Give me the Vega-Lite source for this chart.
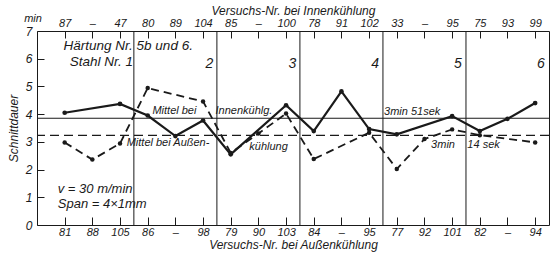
{
  "$schema": "https://vega.github.io/schema/vega-lite/v6.json",
  "width": 512,
  "height": 194,
  "autosize": "none",
  "padding": {"left": 37, "top": 31, "right": 3, "bottom": 30},
  "background": "white",
  "config": {
    "view": {"stroke": "#1a1a1a", "strokeWidth": 1},
    "font": "Liberation Sans",
    "text": {"font": "Liberation Sans", "fontStyle": "italic", "color": "#1a1a1a", "baseline": "middle"},
    "axis": {
      "labelFont": "Liberation Sans", "labelFontStyle": "italic", "labelColor": "#1a1a1a",
      "titleFont": "Liberation Sans", "titleFontStyle": "italic", "titleFontWeight": "normal", "titleColor": "#1a1a1a",
      "tickColor": "#1a1a1a", "domain": false, "grid": false, "labelOverlap": false, "labelFlush": false
    },
    "axisY": {"tickCount": 7, "tickSize": -7, "labelPadding": 12, "labelFontSize": 12, "titleFontSize": 12, "titlePadding": 5}
  },
  "datasets": {
    "innen": [
      {"i": 0, "v": 4.05}, {"i": 2, "v": 4.37}, {"i": 3, "v": 3.95}, {"i": 4, "v": 3.21},
      {"i": 5, "v": 3.77}, {"i": 6, "v": 2.55}, {"i": 8, "v": 4.32}, {"i": 9, "v": 3.39},
      {"i": 10, "v": 4.82}, {"i": 11, "v": 3.46}, {"i": 12, "v": 3.27}, {"i": 14, "v": 3.93},
      {"i": 15, "v": 3.39}, {"i": 16, "v": 3.83}, {"i": 17, "v": 4.40}
    ],
    "aussen": [
      {"i": 0, "v": 2.98}, {"i": 1, "v": 2.36}, {"i": 2, "v": 2.94}, {"i": 3, "v": 4.94},
      {"i": 5, "v": 4.46}, {"i": 6, "v": 2.6}, {"i": 7, "v": 3.3}, {"i": 8, "v": 4.02},
      {"i": 9, "v": 2.38}, {"i": 11, "v": 3.33}, {"i": 12, "v": 2.02}, {"i": 13, "v": 3.1},
      {"i": 14, "v": 3.45}, {"i": 15, "v": 3.24}, {"i": 17, "v": 2.98}
    ],
    "mittel": [
      {"art": "innen", "v": 3.85},
      {"art": "aussen", "v": 3.233}
    ],
    "gruppen": [
      {"grenze": 2.5}, {"grenze": 5.5}, {"grenze": 8.5}, {"grenze": 11.5}, {"grenze": 14.5}
    ]
  },
  "layer": [
    {
      "data": {"name": "innen"},
      "mark": {"type": "line", "color": "#1a1a1a", "strokeWidth": 2.2},
      "encoding": {
        "x": {
          "field": "i", "type": "quantitative",
          "scale": {"domain": [-1, 17.5], "nice": false, "zero": false},
          "axis": {
            "orient": "top",
            "values": [0,1,2,3,4,5,6,7,8,9,10,11,12,13,14,15,16,17],
            "labelExpr": "['87','–','47','80','89','104','85','–','100','78','91','102','33','–','95','75','93','99'][datum.value]",
            "tickSize": -7, "labelPadding": 10, "labelFontSize": 11,
            "title": "Versuchs-Nr. bei Innenkühlung", "titleFontSize": 12, "titlePadding": 0
          }
        },
        "y": {
          "field": "v", "type": "quantitative",
          "scale": {"domain": [0, 7], "nice": false},
          "axis": {"title": "Schnittdauer"}
        }
      }
    },
    {
      "data": {"name": "innen"},
      "mark": {"type": "point", "filled": true, "color": "#1a1a1a", "size": 22, "opacity": 1},
      "encoding": {
        "x": {"field": "i", "type": "quantitative", "axis": null},
        "y": {"field": "v", "type": "quantitative"}
      }
    },
    {
      "data": {"name": "aussen"},
      "mark": {"type": "line", "color": "#1a1a1a", "strokeWidth": 1.8, "strokeDash": [8, 5]},
      "encoding": {
        "x": {
          "field": "i", "type": "quantitative",
          "axis": {
            "orient": "bottom",
            "values": [0,1,2,3,4,5,6,7,8,9,10,11,12,13,14,15,16,17],
            "labelExpr": "['81','88','105','86','–','98','79','90','103','84','–','95','77','92','101','82','–','94'][datum.value]",
            "tickSize": -8, "labelPadding": 9, "labelFontSize": 11,
            "title": "Versuchs-Nr. bei Außenkühlung", "titleFontSize": 12, "titlePadding": 2
          }
        },
        "y": {"field": "v", "type": "quantitative"}
      }
    },
    {
      "data": {"name": "aussen"},
      "mark": {"type": "point", "filled": true, "color": "#1a1a1a", "size": 20, "opacity": 1},
      "encoding": {
        "x": {"field": "i", "type": "quantitative", "axis": null},
        "y": {"field": "v", "type": "quantitative"}
      }
    },
    {
      "data": {"name": "mittel"},
      "mark": {"type": "rule", "color": "#1a1a1a", "strokeWidth": 1.1},
      "encoding": {
        "y": {"field": "v", "type": "quantitative"},
        "strokeDash": {
          "field": "art", "type": "nominal",
          "scale": {"domain": ["innen", "aussen"], "range": [[1, 0], [9, 5]]},
          "legend": null
        }
      }
    },
    {
      "data": {"name": "gruppen"},
      "mark": {"type": "rule", "color": "#1a1a1a", "strokeWidth": 1},
      "encoding": {
        "x": {"field": "grenze", "type": "quantitative", "axis": null}
      }
    },
    {
      "data": {"values": [{}]},
      "mark": {"type": "text", "align": "center", "fontSize": 11, "dx": -4, "dy": -12, "text": "min"},
      "encoding": {"x": {"datum": -1, "type": "quantitative", "axis": null}, "y": {"datum": 7, "type": "quantitative"}}
    },
    {
      "data": {"values": [{}]},
      "mark": {"type": "text", "align": "left", "fontSize": 13.5, "text": "Härtung Nr. 5b und 6."},
      "encoding": {"x": {"datum": -0.04, "type": "quantitative", "axis": null}, "y": {"datum": 6.46, "type": "quantitative"}}
    },
    {
      "data": {"values": [{}]},
      "mark": {"type": "text", "align": "left", "fontSize": 13.5, "text": "Stahl Nr. 1"},
      "encoding": {"x": {"datum": 0.18, "type": "quantitative", "axis": null}, "y": {"datum": 5.88, "type": "quantitative"}}
    },
    {
      "data": {"values": [{}]},
      "mark": {"type": "text", "align": "center", "fontSize": 14, "text": "2"},
      "encoding": {"x": {"datum": 5.23, "type": "quantitative", "axis": null}, "y": {"datum": 5.81, "type": "quantitative"}}
    },
    {
      "data": {"values": [{}]},
      "mark": {"type": "text", "align": "center", "fontSize": 14, "text": "3"},
      "encoding": {"x": {"datum": 8.23, "type": "quantitative", "axis": null}, "y": {"datum": 5.81, "type": "quantitative"}}
    },
    {
      "data": {"values": [{}]},
      "mark": {"type": "text", "align": "center", "fontSize": 14, "text": "4"},
      "encoding": {"x": {"datum": 11.22, "type": "quantitative", "axis": null}, "y": {"datum": 5.81, "type": "quantitative"}}
    },
    {
      "data": {"values": [{}]},
      "mark": {"type": "text", "align": "center", "fontSize": 14, "text": "5"},
      "encoding": {"x": {"datum": 14.21, "type": "quantitative", "axis": null}, "y": {"datum": 5.81, "type": "quantitative"}}
    },
    {
      "data": {"values": [{}]},
      "mark": {"type": "text", "align": "center", "fontSize": 14, "text": "6"},
      "encoding": {"x": {"datum": 17.21, "type": "quantitative", "axis": null}, "y": {"datum": 5.81, "type": "quantitative"}}
    },
    {
      "data": {"values": [{}]},
      "mark": {"type": "text", "align": "left", "fontSize": 11, "text": "Mittel bei"},
      "encoding": {"x": {"datum": 3.17, "type": "quantitative", "axis": null}, "y": {"datum": 4.1, "type": "quantitative"}}
    },
    {
      "data": {"values": [{}]},
      "mark": {"type": "text", "align": "left", "fontSize": 11, "text": "Innenkühlg."},
      "encoding": {"x": {"datum": 5.45, "type": "quantitative", "axis": null}, "y": {"datum": 4.1, "type": "quantitative"}}
    },
    {
      "data": {"values": [{}]},
      "mark": {"type": "text", "align": "left", "fontSize": 11, "text": "Mittel bei Außen-"},
      "encoding": {"x": {"datum": 2.24, "type": "quantitative", "axis": null}, "y": {"datum": 2.96, "type": "quantitative"}}
    },
    {
      "data": {"values": [{}]},
      "mark": {"type": "text", "align": "left", "fontSize": 11, "text": "kühlung"},
      "encoding": {"x": {"datum": 6.67, "type": "quantitative", "axis": null}, "y": {"datum": 2.83, "type": "quantitative"}}
    },
    {
      "data": {"values": [{}]},
      "mark": {"type": "text", "align": "left", "fontSize": 11, "text": "3min  51sek"},
      "encoding": {"x": {"datum": 11.54, "type": "quantitative", "axis": null}, "y": {"datum": 4.08, "type": "quantitative"}}
    },
    {
      "data": {"values": [{}]},
      "mark": {"type": "text", "align": "left", "fontSize": 11, "text": "3min"},
      "encoding": {"x": {"datum": 13.24, "type": "quantitative", "axis": null}, "y": {"datum": 2.9, "type": "quantitative"}}
    },
    {
      "data": {"values": [{}]},
      "mark": {"type": "text", "align": "left", "fontSize": 11, "text": "14 sek"},
      "encoding": {"x": {"datum": 14.55, "type": "quantitative", "axis": null}, "y": {"datum": 2.9, "type": "quantitative"}}
    },
    {
      "data": {"values": [{}]},
      "mark": {"type": "text", "align": "left", "fontSize": 13, "text": "v = 30 m/min"},
      "encoding": {"x": {"datum": -0.25, "type": "quantitative", "axis": null}, "y": {"datum": 1.3, "type": "quantitative"}}
    },
    {
      "data": {"values": [{}]},
      "mark": {"type": "text", "align": "left", "fontSize": 13, "text": "Span = 4×1mm"},
      "encoding": {"x": {"datum": -0.25, "type": "quantitative", "axis": null}, "y": {"datum": 0.76, "type": "quantitative"}}
    }
  ],
  "resolve": {"axis": {"x": "independent"}}
}
